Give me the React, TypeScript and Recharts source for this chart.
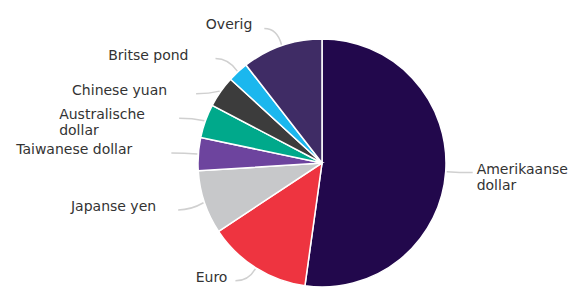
import { Pie, PieChart, Cell } from "recharts";

const currencies = [
  "Amerikaanse dollar",
  "Euro",
  "Japanse yen",
  "Taiwanese dollar",
  "Australische dollar",
  "Chinese yuan",
  "Britse pond",
  "Overig",
];
const shares = [52.2, 13.5, 8.3, 4.3, 4.4, 4.1, 2.7, 10.5];
const labelLines = [
  ["Amerikaanse", "dollar"],
  ["Euro"],
  ["Japanse yen"],
  ["Taiwanese dollar"],
  ["Australische", "dollar"],
  ["Chinese yuan"],
  ["Britse pond"],
  ["Overig"],
];

const COLORS = ["#22084c", "#ee3440", "#c7c8ca", "#6d449e", "#00a98b", "#3c3c3c", "#1bb7ee", "#3f2c65"];
// label layout only: text offset from connector end, vertical nudge of connector end
const LABEL_DX = [4, -8, -22, -39, -120, -29, -27, -12];
const LABEL_DY = [0, 1, 3, 0, 2, 10, -3, -4];
const LABEL_ANCHOR = ["start", "end", "end", "end", "start", "end", "end", "end"];

const chartData = currencies.map((name, i) => ({ name, value: shares[i] }));

const RAD = Math.PI / 180;

function renderLabel(props: any) {
  const { cx, cy, midAngle, outerRadius, index } = props;
  const cos = Math.cos(-midAngle * RAD);
  const sin = Math.sin(-midAngle * RAD);
  const sx = cx + (outerRadius + 1) * cos;
  const sy = cy + (outerRadius + 1) * sin;
  const mx = cx + (outerRadius + 14) * cos;
  const my = cy + (outerRadius + 14) * sin;
  const right = cos >= 0;
  const ex = mx + (right ? 13 : -13);
  const ey = my + LABEL_DY[index];
  const lines = labelLines[index];
  const tx = ex + LABEL_DX[index];
  const ty = ey - 4;
  return (
    <g>
      <path d={`M${sx},${sy} Q${mx},${ey} ${ex},${ey}`} stroke="#d0d0d0" strokeWidth={1.5} fill="none" />
      <text x={tx} y={ty} textAnchor={LABEL_ANCHOR[index]} fill="#333" fontSize={14} dominantBaseline="central">
        {lines.map((line, i) => (
          <tspan key={i} x={tx} dy={i === 0 ? 0 : 16}>
            {line}
          </tspan>
        ))}
      </text>
    </g>
  );
}

export default function App() {
  return (
    <div style={{ position: "absolute", left: 0, top: 0, width: 581, height: 305, background: "#fff", fontFamily: "'DejaVu Sans', sans-serif" }}>
      <PieChart width={581} height={305} margin={{ top: 0, right: 0, bottom: 0, left: 0 }}>
        <Pie
          data={chartData}
          dataKey="value"
          nameKey="name"
          cx={322}
          cy={163}
          outerRadius={124}
          startAngle={90}
          endAngle={-270}
          stroke="#fff"
          strokeWidth={1.5}
          label={renderLabel}
          labelLine={false}
          isAnimationActive={false}
        >
          {chartData.map((d, i) => (
            <Cell key={d.name} fill={COLORS[i]} />
          ))}
        </Pie>
      </PieChart>
    </div>
  );
}
